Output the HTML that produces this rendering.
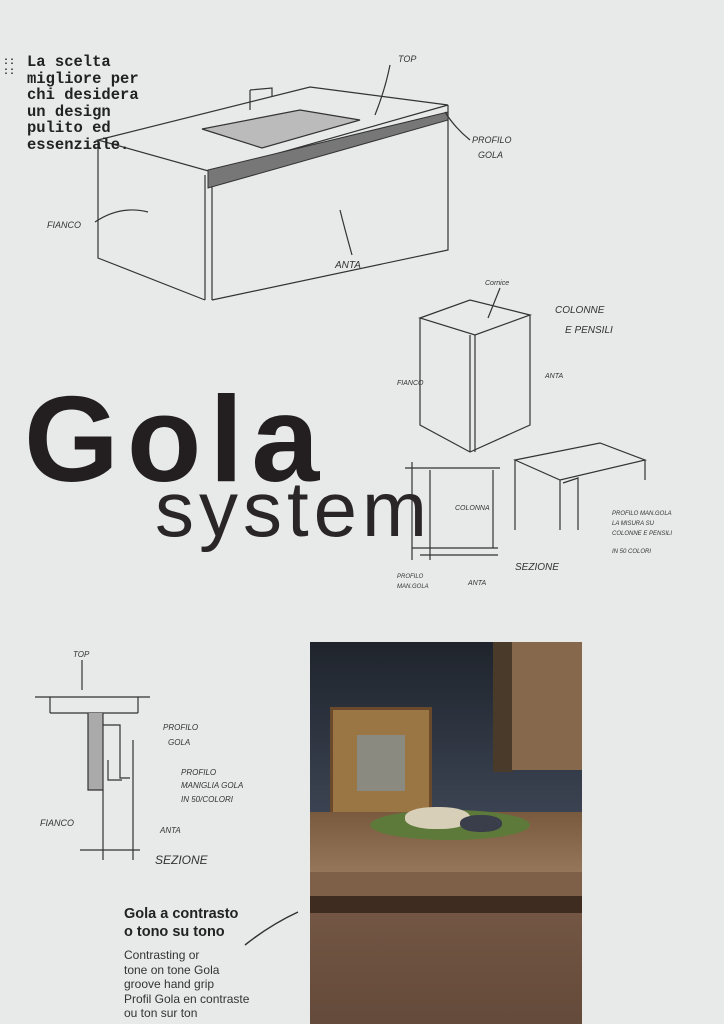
<!DOCTYPE html>
<html><head><meta charset="utf-8"><style>
html,body{margin:0;padding:0}
body{width:724px;height:1024px;background:#e8e9e9;position:relative;overflow:hidden;font-family:"Liberation Sans",sans-serif}
.intro{position:absolute;left:27px;top:54px;font-family:"Liberation Mono",monospace;font-weight:bold;font-size:15.5px;line-height:16.5px;color:#222}
.dots{position:absolute;left:3px;top:58px;font-family:"Liberation Mono",monospace;font-size:10px;line-height:10px;color:#222;font-weight:bold}
.gola{position:absolute;left:24px;top:378px;font-size:122px;font-weight:bold;color:#231f20;letter-spacing:8px;line-height:1}
.system{position:absolute;left:155px;top:470px;font-size:78px;color:#2a2627;line-height:1;letter-spacing:5px}
.cap{position:absolute;left:124px;top:905px;font-size:14.5px;font-weight:bold;color:#222;line-height:18px}
.sub{position:absolute;left:124px;top:948px;font-size:12px;color:#333;line-height:14.5px}
.photo{position:absolute;left:310px;top:642px;width:272px;height:382px;overflow:hidden;background:#2a2f38}
svg text{font-family:"Liberation Sans",sans-serif;font-style:italic}
</style></head><body>
<svg width="724" height="1024" style="position:absolute;left:0;top:0" fill="none" stroke="#333" stroke-width="1.2">
<path d="M98 140 L310 87 L448 105 L212 172 Z"/>
<path d="M98 140 L98 258 L205 300"/>
<path d="M212 172 L212 300"/><path d="M205 175 L205 300"/>
<path d="M448 105 L448 250 L212 300"/>
<path d="M208 170 L448 112 L448 120 L208 188 Z" fill="#777" stroke-width="1"/>
<path d="M202 129 L300 110 L360 120 L262 148 Z" fill="#bbb"/>
<path d="M250 90 L250 110 M250 90 L272 88 L272 96"/>
<text x="398" y="62" font-size="9" fill="#333" stroke="none">TOP</text>
<path d="M390 65 Q385 90 375 115"/>
<text x="472" y="143" font-size="9" fill="#333" stroke="none">PROFILO</text>
<text x="478" y="158" font-size="9" fill="#333" stroke="none">GOLA</text>
<path d="M470 140 Q455 128 445 112"/>
<text x="47" y="228" font-size="9" fill="#333" stroke="none">FIANCO</text>
<path d="M95 222 Q120 205 148 212"/>
<text x="335" y="268" font-size="10" fill="#333" stroke="none">ANTA</text>
<path d="M352 255 Q345 230 340 210"/>
<path d="M420 318 L470 300 L530 315 L475 335 Z"/>
<path d="M420 318 L420 425 L470 452 L530 425 L530 315"/>
<path d="M475 335 L475 452 M470 335 L470 452"/>
<text x="485" y="285" font-size="7" fill="#333" stroke="none">Cornice</text>
<path d="M500 288 L488 318"/>
<text x="555" y="313" font-size="10" fill="#333" stroke="none">COLONNE</text>
<text x="565" y="333" font-size="10" fill="#333" stroke="none">E PENSILI</text>
<text x="397" y="385" font-size="7" fill="#333" stroke="none">FIANCO</text>
<text x="545" y="378" font-size="7" fill="#333" stroke="none">ANTA</text>
<path d="M405 468 L500 468 M412 462 L412 560 M412 548 L498 548 M430 470 L430 560 M420 555 L498 555"/>
<path d="M493 470 L493 548"/>
<text x="455" y="510" font-size="7" fill="#333" stroke="none">COLONNA</text>
<text x="515" y="570" font-size="10" fill="#333" stroke="none">SEZIONE</text>
<text x="397" y="578" font-size="6" fill="#333" stroke="none">PROFILO</text>
<text x="397" y="588" font-size="6" fill="#333" stroke="none">MAN.GOLA</text>
<text x="468" y="585" font-size="7" fill="#333" stroke="none">ANTA</text>
<path d="M515 460 L600 443 L645 460 L560 480 Z M515 460 L515 530 M560 480 L560 530 M645 460 L645 480 M563 483 L578 478 L578 530"/>
<text x="612" y="515" font-size="6" fill="#333" stroke="none">PROFILO MAN.GOLA</text>
<text x="612" y="525" font-size="6" fill="#333" stroke="none">LA MISURA SU</text>
<text x="612" y="535" font-size="6" fill="#333" stroke="none">COLONNE E PENSILI</text>
<text x="612" y="553" font-size="6" fill="#333" stroke="none">IN 50 COLORI</text>
<path d="M35 697 L150 697 M50 713 L138 713 M50 697 L50 713 M138 697 L138 713"/>
<path d="M88 713 L88 790 L103 790 L103 713" fill="#aaa"/>
<path d="M103 725 L120 725 L120 778 L130 778 M108 760 L108 780 L122 780"/>
<path d="M103 790 L103 860 M133 740 L133 860 M80 850 L140 850"/>
<path d="M82 660 L82 690"/>
<text x="73" y="657" font-size="8" fill="#333" stroke="none">TOP</text>
<text x="163" y="730" font-size="8" fill="#333" stroke="none">PROFILO</text>
<text x="168" y="745" font-size="8" fill="#333" stroke="none">GOLA</text>
<text x="181" y="775" font-size="8" fill="#333" stroke="none">PROFILO</text>
<text x="181" y="788" font-size="8" fill="#333" stroke="none">MANIGLIA GOLA</text>
<text x="181" y="802" font-size="8" fill="#333" stroke="none">IN 50/COLORI</text>
<text x="40" y="826" font-size="9" fill="#333" stroke="none">FIANCO</text>
<text x="160" y="833" font-size="8" fill="#333" stroke="none">ANTA</text>
<text x="155" y="864" font-size="12" fill="#333" stroke="none">SEZIONE</text>
<path d="M245 945 Q270 925 298 912" stroke-width="1.5"/>
</svg>
<div class="dots">::<br>::</div>
<div class="intro">La scelta<br>migliore per<br>chi desidera<br>un design<br>pulito ed<br>essenziale.</div>
<div class="gola">Gola</div>
<div class="system">system</div>
<div class="cap">Gola a contrasto<br>o tono su tono</div>
<div class="sub">Contrasting or<br>tone on tone Gola<br>groove hand grip<br>Profil Gola en contraste<br>ou ton sur ton</div>
<div class="photo">
 <div style="position:absolute;left:0;top:0;width:272px;height:170px;background:linear-gradient(180deg,#1f242c,#3b4352)"></div>
 <div style="position:absolute;left:183px;top:0;width:20px;height:130px;background:#4a3a2a"></div>
 <div style="position:absolute;left:202px;top:0;width:70px;height:128px;background:#86684c"></div>
 <div style="position:absolute;left:20px;top:65px;width:102px;height:110px;background:#9a7644;border:3px solid #6a4a2a;box-sizing:border-box"></div>
 <div style="position:absolute;left:47px;top:93px;width:48px;height:56px;background:#8a8a80"></div>
 <div style="position:absolute;left:0;top:170px;width:272px;height:60px;background:linear-gradient(180deg,#7a5a3e,#96765a)"></div>
 <div style="position:absolute;left:60px;top:168px;width:160px;height:30px;background:#5d7a3a;border-radius:50%"></div>
 <div style="position:absolute;left:95px;top:165px;width:65px;height:22px;background:#d8cfb8;border-radius:45%"></div>
 <div style="position:absolute;left:150px;top:173px;width:42px;height:17px;background:#3a3e4a;border-radius:45%"></div>
 <div style="position:absolute;left:0;top:230px;width:272px;height:25px;background:#7e6048"></div>
 <div style="position:absolute;left:0;top:254px;width:272px;height:17px;background:#3e2c20"></div>
 <div style="position:absolute;left:0;top:271px;width:272px;height:111px;background:linear-gradient(180deg,#735644,#644a3a)"></div>
</div>
</body></html>
